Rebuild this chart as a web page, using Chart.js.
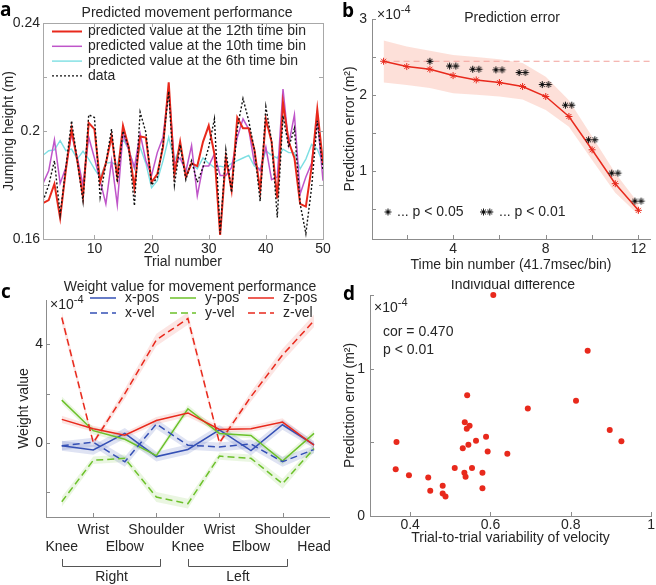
<!DOCTYPE html>
<html>
<head>
<meta charset="utf-8">
<script src="https://cdn.jsdelivr.net/npm/chart.js@4.4.1/dist/chart.umd.min.js"></script>
<style>
  body { margin: 0; background: #fff; }
  #page { position: relative; width: 656px; height: 585px; overflow: hidden; }
  .panel { position: absolute; }
</style>
</head>
<body>
<div id="page">
  <div class="panel" style="left:0;top:0;width:335px;height:280px"><canvas id="chartA"></canvas></div>
  <div class="panel" style="left:330px;top:0;width:326px;height:280px"><canvas id="chartB"></canvas></div>
  <div class="panel" style="left:0;top:280px;width:335px;height:305px"><canvas id="chartC"></canvas></div>
  <div class="panel" style="left:330px;top:280px;width:326px;height:305px"><canvas id="chartD"></canvas></div>
</div>
<script>
'use strict';

// ---- panel a: predicted jumping height per trial ----
const trialNumbers = [1, 2, 3, 4, 5, 6, 7, 8, 9, 10, 11, 12, 13, 14, 15, 16, 17, 18, 19, 20,
    21, 22, 23, 24, 25, 26, 27, 28, 29, 30, 31, 32, 33, 34, 35, 36, 37, 38, 39, 40,
    41, 42, 43, 44, 45, 46, 47, 48, 49, 50];
const pred12th = [0.1733, 0.1744, 0.1804, 0.1678, 0.1856, 0.2007, 0.189, 0.1756, 0.203, 0.2007,
    0.181, 0.188, 0.198, 0.183, 0.202, 0.194, 0.179, 0.198, 0.1976, 0.181,
    0.184, 0.194, 0.218, 0.184, 0.196, 0.183, 0.188, 0.187, 0.196, 0.202,
    0.1915, 0.1615, 0.19, 0.178, 0.205, 0.201, 0.201, 0.193, 0.178, 0.2045,
    0.196, 0.175, 0.2105, 0.196, 0.19, 0.173, 0.172, 0.1865, 0.208, 0.188];
const pred10th = [0.1806, 0.1853, 0.1967, 0.1806, 0.1865, 0.199, 0.19, 0.18, 0.1977, 0.19,
    0.1816, 0.173, 0.189, 0.1727, 0.199, 0.193, 0.1865, 0.199, 0.189, 0.1835,
    0.192, 0.1977, 0.2155, 0.188, 0.19, 0.185, 0.1946, 0.176, 0.187, 0.187,
    0.1915, 0.1835, 0.1835, 0.1865, 0.1977, 0.2045, 0.2007, 0.188, 0.1853, 0.194,
    0.182, 0.183, 0.2155, 0.195, 0.206, 0.1767, 0.183, 0.188, 0.205, 0.1816];
const pred6th = [0.191, 0.1927, 0.193, 0.1964, 0.1927, 0.1933, 0.1896, 0.1925, 0.1896, 0.186,
    0.1828, 0.188, 0.1884, 0.1872, 0.197, 0.1933, 0.186, 0.194, 0.188, 0.179,
    0.1816, 0.189, 0.1977, 0.189, 0.194, 0.184, 0.188, 0.186, 0.19, 0.188,
    0.1865, 0.187, 0.1865, 0.188, 0.189, 0.19, 0.191, 0.187, 0.186, 0.1927,
    0.191, 0.19, 0.1933, 0.192, 0.192, 0.186, 0.1896, 0.195, 0.1933, 0.188];
const jumpData = [0.174, 0.18, 0.189, 0.169, 0.1865, 0.2038, 0.189, 0.174, 0.206, 0.205,
    0.1755, 0.188, 0.2007, 0.181, 0.2, 0.194, 0.1723, 0.207, 0.1995, 0.18,
    0.1828, 0.195, 0.2147, 0.18, 0.195, 0.182, 0.189, 0.181, 0.1865, 0.194,
    0.2045, 0.162, 0.193, 0.1773, 0.201, 0.212, 0.2038, 0.193, 0.174, 0.209,
    0.1964, 0.168, 0.2057, 0.194, 0.201, 0.173, 0.162, 0.179, 0.2038, 0.1853];
const aXTicks = [10, 20, 30, 40, 50];
const aYTicks = [0.16, 0.18, 0.2, 0.22, 0.24];
const aYLabels = [0.16, 0.2, 0.24];

// ---- panel b: prediction error per time bin (x1e-4 m^2) ----
const timeBins = [1, 2, 3, 4, 5, 6, 7, 8, 9, 10, 11, 12];
const predError = [2.443, 2.373, 2.338, 2.254, 2.197, 2.162, 2.11, 1.978, 1.715, 1.276, 0.829, 0.478];
const predErrorUpper = [2.715, 2.636, 2.58, 2.526, 2.5, 2.47, 2.42, 2.24, 1.93, 1.45, 0.97, 0.57];
const predErrorLower = [2.162, 2.13, 2.09, 2.02, 2.0, 1.98, 1.94, 1.8, 1.58, 1.14, 0.71, 0.42];
const chanceBins = [1, 12.5];
const chanceLevel = [2.443, 2.443];
const sig05Bins = [3];
const sig05Vals = [2.443];
const sig01Bins = [4, 5, 6, 7, 8, 9, 10, 11, 12];
const sig01Vals = [2.38, 2.338, 2.33, 2.294, 2.136, 1.864, 1.408, 0.969, 0.6];
const bXTicks = [2, 4, 6, 8, 10, 12];
const bXLabels = [4, 8, 12];
const bYTicks = [0.5, 1, 1.5, 2, 2.5, 3];
const bYLabels = [1, 2, 3];

// ---- panel c: weights per body part (x1e-4) ----
const jointNames = ['Knee', 'Wrist', 'Elbow', 'Shoulder', 'Knee', 'Wrist', 'Elbow', 'Shoulder', 'Head'];
const xPosW = [-0.11, -0.28, 0.39, -0.55, -0.26, 0.53, -0.31, 0.74, -0.07];
const xVelW = [-0.11, 0.03, -0.76, 0.77, -0.09, -0.16, -0.04, -0.76, -0.26];
const yPosW = [1.74, 0.5, 0.15, -0.51, 1.39, 0.39, 0.31, -0.73, 0.39];
const yVelW = [-2.38, -0.7, -0.62, -2.19, -2.46, -0.53, -0.62, -1.65, -0.22];
const zPosW = [0.96, 0.58, 0.32, 0.91, 1.22, 0.55, 0.58, 0.85, -0.09];
const zVelW = [5.09, 0.01, 2.0, 4.18, 5.05, 0.01, 1.88, 3.57, 4.96];
const xPosErr = [0.2, 0.2, 0.22, 0.2, 0.2, 0.2, 0.2, 0.2, 0.15];
const xVelErr = [0.18, 0.18, 0.2, 0.2, 0.18, 0.18, 0.18, 0.2, 0.15];
const yPosErr = [0.15, 0.15, 0.12, 0.12, 0.15, 0.12, 0.12, 0.15, 0.15];
const yVelErr = [0.2, 0.15, 0.15, 0.2, 0.2, 0.15, 0.15, 0.2, 0.15];
const zPosErr = [0.15, 0.12, 0.12, 0.15, 0.15, 0.12, 0.12, 0.15, 0.12];
const zVelErr = [0.25, 0.1, 0.2, 0.25, 0.25, 0.1, 0.2, 0.25, 0.25];
const sideGroups = [{name: 'Right', from: 0, to: 3}, {name: 'Left', from: 4, to: 7}];
const cXTickIdx = [1, 3, 5, 7];
const cYTicks = [-2, 0, 2, 4];
const cYLabels = [0, 4];

// ---- panel d: individual difference ----
const velVariability = [0.607, 0.842, 0.813, 0.693, 0.542, 0.536, 0.548, 0.541, 0.589, 0.564,
    0.545, 0.531, 0.593, 0.642, 0.897, 0.926, 0.366, 0.364, 0.397, 0.445,
    0.45, 0.481, 0.481, 0.488, 0.511, 0.535, 0.538, 0.554, 0.58, 0.58];
const indivError = [1.5, 1.122, 0.783, 0.729, 0.819, 0.636, 0.613, 0.593, 0.538, 0.511,
    0.484, 0.459, 0.437, 0.423, 0.584, 0.507, 0.502, 0.317, 0.276, 0.262,
    0.172, 0.206, 0.152, 0.133, 0.326, 0.294, 0.267, 0.326, 0.294, 0.188];
const dXTicks = [0.4, 0.6, 0.8, 1];
const dYTicks = [0, 0.5, 1, 1.5];
const dYLabels = [0, 1];

// ---- styling ----
const FONT = '"Liberation Sans", Arial, Helvetica, sans-serif';
const TEXT = '#262626';
const AXIS = '#8c8c8c';
const TICK = 4;
const RED = '#e8291c';
const MAGENTA = '#bf55c9';
const CYAN = '#7ddfe3';
const BLUE = '#3550b5';
const GREEN = '#6cc12a';

Chart.defaults.font.family = FONT;
Chart.defaults.font.size = 14;
Chart.defaults.color = TEXT;
Chart.defaults.animation = false;
Chart.defaults.responsive = true;
Chart.defaults.maintainAspectRatio = false;
Chart.defaults.plugins.legend.display = false;
Chart.defaults.plugins.tooltip.enabled = false;

function fmt(v) { return String(+v.toFixed(4)); }

function linAxis(o) {
    return {
        type: 'linear', min: o.min, max: o.max,
        afterBuildTicks: s => { s.ticks = o.ticks.map(v => ({value: v})); },
        afterFit: s => { if (o.isX) s.height = o.size; else s.width = o.size; },
        grid: {display: false, drawTicks: false},
        border: {display: true, color: AXIS},
        ticks: {
            autoSkip: false, maxRotation: 0, padding: o.tickPad, color: TEXT,
            callback: v => (o.labels || o.ticks).includes(v) ? fmt(v) : ''
        },
        title: o.title ? {display: true, text: o.title, color: TEXT, padding: o.titlePad} : {display: false}
    };
}

function txt(ctx, s, x, y, opt) {
    opt = opt || {};
    ctx.save();
    ctx.font = opt.font || ('14px ' + FONT);
    ctx.fillStyle = opt.color || TEXT;
    ctx.textAlign = opt.align || 'left';
    ctx.textBaseline = opt.baseline || 'middle';
    ctx.fillText(s, x, y);
    ctx.restore();
}

function panelLetter(ctx, s, x, y) {
    txt(ctx, s, x, y, {font: 'bold 19px "Open Sans", ' + FONT, color: '#000', baseline: 'alphabetic'});
}

function exponent(ctx, x, y) {
    ctx.save();
    ctx.font = '14px ' + FONT;
    const w = ctx.measureText('\u00d710').width;
    ctx.restore();
    txt(ctx, '\u00d710', x, y);
    txt(ctx, '-4', x + w, y - 5, {font: '11px ' + FONT});
}

function inwardTicks(chart, box, xVals) {
    const {ctx, chartArea: a} = chart;
    const xs = chart.scales.x, ys = chart.scales.y;
    ctx.save();
    ctx.strokeStyle = box ? '#a8a8a8' : AXIS;
    ctx.lineWidth = 1;
    ctx.beginPath();
    (xVals || xs.ticks.map(t => t.value)).forEach(v => {
        const p = Math.round(xs.getPixelForValue(v)) + 0.5;
        ctx.moveTo(p, a.bottom); ctx.lineTo(p, a.bottom - TICK);
        if (box) { ctx.moveTo(p, a.top); ctx.lineTo(p, a.top + TICK); }
    });
    ys.ticks.forEach(t => {
        const p = Math.round(ys.getPixelForValue(t.value)) + 0.5;
        ctx.moveTo(a.left, p); ctx.lineTo(a.left + TICK, p);
        if (box) { ctx.moveTo(a.right, p); ctx.lineTo(a.right - TICK, p); }
    });
    ctx.stroke();
    if (box) ctx.strokeRect(Math.round(a.left) + 0.5, Math.round(a.top) + 0.5, Math.round(a.width), Math.round(a.height));
    ctx.restore();
}

function legendLine(ctx, ds, x, y, len, gap) {
    ctx.save();
    ctx.strokeStyle = ds.borderColor;
    ctx.lineWidth = ds.borderWidth;
    ctx.setLineDash(ds.borderDash || []);
    ctx.beginPath(); ctx.moveTo(x, y); ctx.lineTo(x + len, y); ctx.stroke();
    ctx.restore();
    txt(ctx, ds.label, x + len + gap, y);
}

function asterisks(count, size, color, lw) {
    const c = document.createElement('canvas');
    const step = size * 0.9;
    c.width = Math.ceil(size + step * (count - 1)) + 2;
    c.height = size + 2;
    const g = c.getContext('2d');
    g.strokeStyle = color; g.lineWidth = lw;
    g.beginPath();
    for (let k = 0; k < count; k++) {
        const cx = 1 + size / 2 + k * step, cy = 1 + size / 2, r = size / 2;
        for (let j = 0; j < 4; j++) {
            const ang = j * Math.PI / 4;
            g.moveTo(cx - r * Math.cos(ang), cy - r * Math.sin(ang));
            g.lineTo(cx + r * Math.cos(ang), cy + r * Math.sin(ang));
        }
    }
    g.stroke();
    return c;
}

const xy = (xs, ys) => ys.map((v, i) => ({x: xs[i], y: v}));

// ================= panel a =================
function drawPanelA() {
    const line = (label, vals, color, width, dash) => ({
        label, data: xy(trialNumbers, vals), borderColor: color, borderWidth: width,
        borderDash: dash || [], pointRadius: 0, tension: 0, fill: false
    });
    const dsData = line('data', jumpData, '#111', 1.4, [2, 2]);
    const ds12 = line('predicted value at the 12th time bin', pred12th, RED, 2);
    const ds10 = line('predicted value at the 10th time bin', pred10th, MAGENTA, 1.5);
    const ds6 = line('predicted value at the 6th time bin', pred6th, CYAN, 1.4);

    new Chart(document.getElementById('chartA'), {
        type: 'line',
        data: {datasets: [dsData, ds12, ds10, ds6]},
        options: {
            layout: {padding: {left: 0, top: 23, right: 12, bottom: 0}},
            scales: {
                x: linAxis({min: 1, max: 50, ticks: aXTicks, isX: true, size: 41, tickPad: 2,
                    title: 'Trial number', titlePad: {top: 0, bottom: 9}}),
                y: linAxis({min: 0.16, max: 0.24, ticks: aYTicks, labels: aYLabels, size: 43, tickPad: 3,
                    title: 'Jumping height (m)', titlePad: {top: 1, bottom: 0}})
            }
        },
        plugins: [{
            id: 'decorA',
            afterDraw(chart) {
                const ctx = chart.ctx;
                inwardTicks(chart, true);
                txt(ctx, 'Predicted movement performance', 187, 13, {align: 'center'});
                [ds12, ds10, ds6, dsData].forEach((ds, i) => legendLine(ctx, ds, 52, 31.5 + i * 14.8, 30, 6));
                panelLetter(ctx, 'a', 0, 16);
            }
        }]
    });
}

// ================= panel b =================
function drawPanelB() {
    const star1 = asterisks(1, 7, '#111', 1);
    const star2 = asterisks(2, 7, '#111', 1);
    new Chart(document.getElementById('chartB'), {
        type: 'line',
        data: {
            datasets: [
                {label: 'p<0.01', data: xy(sig01Bins, sig01Vals), showLine: false, pointStyle: star2, pointRadius: 5},
                {label: 'p<0.05', data: xy(sig05Bins, sig05Vals), showLine: false, pointStyle: star1, pointRadius: 4},
                {label: 'error', data: xy(timeBins, predError), borderColor: RED, borderWidth: 1.5,
                    pointStyle: 'star', pointRadius: 3.5, pointBorderColor: RED, pointBorderWidth: 1, tension: 0},
                {label: 'chance', data: xy(chanceBins, chanceLevel), borderColor: '#f2a09a', borderWidth: 1,
                    borderDash: [6, 4], pointRadius: 0},
                {label: 'upper', data: xy(timeBins, predErrorUpper), borderWidth: 0, pointRadius: 0,
                    fill: '+1', backgroundColor: 'rgba(252, 214, 204, 0.75)'},
                {label: 'lower', data: xy(timeBins, predErrorLower), borderWidth: 0, pointRadius: 0, fill: false}
            ]
        },
        options: {
            layout: {padding: {left: 0, top: 19, right: 1, bottom: 0}},
            scales: {
                x: linAxis({min: 0.5, max: 12.5, ticks: bXTicks, labels: bXLabels, isX: true, size: 41, tickPad: 2,
                    title: 'Time bin number (41.7msec/bin)', titlePad: {top: 0, bottom: 6}}),
                y: linAxis({min: 0.1, max: 3, ticks: bYTicks, labels: bYLabels, size: 42, tickPad: 5,
                    title: 'Prediction error (m\u00b2)', titlePad: {top: 12, bottom: 0}})
            }
        },
        plugins: [{
            id: 'decorB',
            afterDraw(chart) {
                const ctx = chart.ctx;
                inwardTicks(chart, false);
                txt(ctx, 'Prediction error', 182, 18, {align: 'center'});
                exponent(ctx, 47, 15);
                ctx.drawImage(star1, 58 - star1.width / 2, 212 - star1.height / 2);
                txt(ctx, '... p < 0.05', 67, 212);
                ctx.drawImage(star2, 157 - star2.width / 2, 212 - star2.height / 2);
                txt(ctx, '... p < 0.01', 169, 212);
                panelLetter(ctx, 'b', 12, 17);
            }
        }]
    });
}

// ================= panel c =================
function drawPanelC() {
    const series = [
        {label: 'x-pos', vals: xPosW, err: xPosErr, color: BLUE, dash: [], band: 'rgba(53, 80, 181, 0.16)'},
        {label: 'y-pos', vals: yPosW, err: yPosErr, color: GREEN, dash: [], band: 'rgba(108, 193, 42, 0.14)'},
        {label: 'z-pos', vals: zPosW, err: zPosErr, color: RED, dash: [], band: 'rgba(232, 41, 28, 0.12)'},
        {label: 'x-vel', vals: xVelW, err: xVelErr, color: BLUE, dash: [7, 4], band: 'rgba(53, 80, 181, 0.16)'},
        {label: 'y-vel', vals: yVelW, err: yVelErr, color: GREEN, dash: [7, 4], band: 'rgba(108, 193, 42, 0.14)'},
        {label: 'z-vel', vals: zVelW, err: zVelErr, color: RED, dash: [7, 4], band: 'rgba(232, 41, 28, 0.12)'}
    ];
    const lines = series.map(s => ({
        label: s.label, data: s.vals, borderColor: s.color, borderWidth: 1.5, borderDash: s.dash,
        pointRadius: 0, tension: 0, fill: false
    }));
    const bands = [];
    series.forEach(s => {
        bands.push({label: s.label + ' hi', data: s.vals.map((v, i) => v + s.err[i]), borderWidth: 0,
            pointRadius: 0, fill: '+1', backgroundColor: s.band});
        bands.push({label: s.label + ' lo', data: s.vals.map((v, i) => v - s.err[i]), borderWidth: 0,
            pointRadius: 0, fill: false});
    });

    new Chart(document.getElementById('chartC'), {
        type: 'line',
        data: {labels: jointNames, datasets: lines.slice().reverse().concat(bands)},
        options: {
            layout: {padding: {left: 0, top: 20, right: 4, bottom: 0}},
            scales: {
                x: {
                    type: 'category', offset: true,
                    afterFit: s => { s.height = 68; },
                    grid: {display: false, drawTicks: false},
                    border: {display: true, color: AXIS},
                    ticks: {
                        autoSkip: false, maxRotation: 0, padding: 4, color: TEXT,
                        font: {size: 14, lineHeight: 1.25},
                        callback(value, index) {
                            const n = this.getLabelForValue(value);
                            return index % 2 ? [n, ''] : ['', n];
                        }
                    }
                },
                y: linAxis({min: -3, max: 5.8, ticks: cYTicks, labels: cYLabels, size: 46, tickPad: 3,
                    title: 'Weight value', titlePad: {top: 16, bottom: 0}})
            }
        },
        plugins: [{
            id: 'decorC',
            afterDraw(chart) {
                const ctx = chart.ctx;
                const xs = chart.scales.x;
                inwardTicks(chart, false, cXTickIdx);
                txt(ctx, 'Weight value for movement performance', 190, 7, {align: 'center'});
                exponent(ctx, 50, 25);
                const colX = [90, 170, 248];
                lines.forEach((ds, i) => legendLine(ctx, ds, colX[i % 3], i < 3 ? 18 : 33, 26, 9));
                ctx.save();
                ctx.strokeStyle = '#555';
                ctx.lineWidth = 1;
                sideGroups.forEach(g => {
                    const x0 = Math.round(xs.getPixelForValue(g.from)) + 0.5;
                    const x1 = Math.round(xs.getPixelForValue(g.to)) + 4.5;
                    ctx.beginPath();
                    ctx.moveTo(x0, 279); ctx.lineTo(x0, 286.5); ctx.lineTo(x1, 286.5); ctx.lineTo(x1, 279);
                    ctx.stroke();
                    txt(ctx, g.name, (x0 + x1) / 2, 297, {align: 'center'});
                });
                ctx.restore();
                panelLetter(ctx, 'c', 1, 18);
            }
        }]
    });
}

// ================= panel d =================
function drawPanelD() {
    new Chart(document.getElementById('chartD'), {
        type: 'scatter',
        data: {
            datasets: [{label: 'subjects', data: xy(velVariability, indivError), backgroundColor: RED,
                borderWidth: 0, pointRadius: 3, clip: false}]
        },
        options: {
            layout: {padding: {left: 0, top: 15, right: 3, bottom: 0}},
            scales: {
                x: linAxis({min: 0.3, max: 1, ticks: dXTicks, isX: true, size: 69, tickPad: 1,
                    title: 'Trial-to-trial variability of velocity', titlePad: {top: 0, bottom: 38}}),
                y: linAxis({min: 0, max: 1.5, ticks: dYTicks, labels: dYLabels, size: 40, tickPad: 5,
                    title: 'Prediction error (m\u00b2)', titlePad: {top: 12, bottom: 0}})
            }
        },
        plugins: [{
            id: 'decorD',
            afterDraw(chart) {
                const ctx = chart.ctx;
                inwardTicks(chart, false);
                txt(ctx, 'Individual difference', 183, 5, {align: 'center'});
                exponent(ctx, 44, 28);
                txt(ctx, 'cor = 0.470', 53, 52);
                txt(ctx, 'p < 0.01', 53, 70);
                panelLetter(ctx, 'd', 13, 20);
            }
        }]
    });
}

drawPanelA();
drawPanelB();
drawPanelC();
drawPanelD();
</script>
</body>
</html>
